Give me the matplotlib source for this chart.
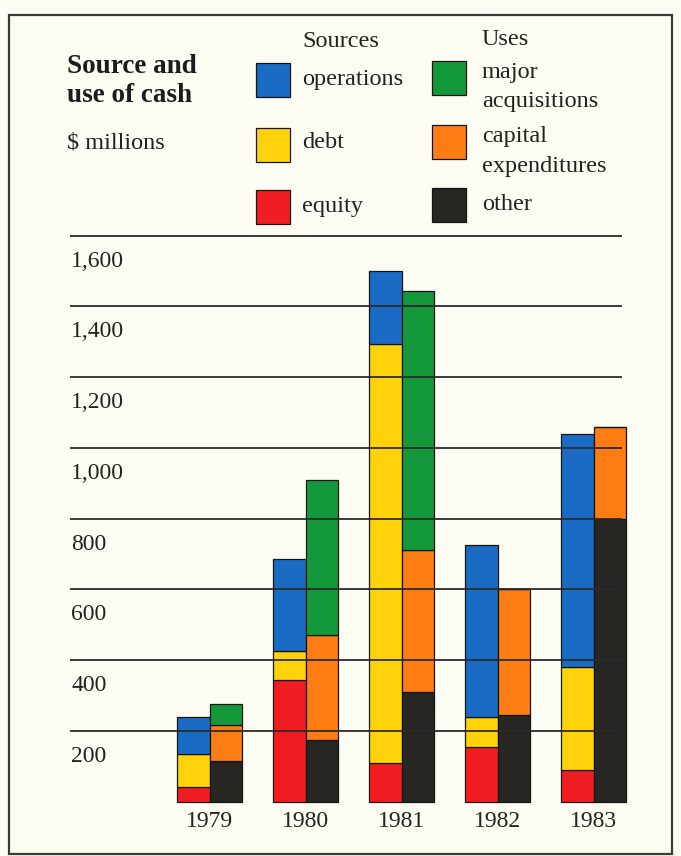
import matplotlib
matplotlib.use("Agg")
import matplotlib.pyplot as plt
from matplotlib.patches import Rectangle
from matplotlib.transforms import Affine2D

# ---- data ($ millions) ----
years = ["1979", "1980", "1981", "1982", "1983"]
# sources of cash
operations = [105, 260, 205, 485, 660]
debt = [95, 80, 1185, 85, 290]
equity = [40, 345, 110, 155, 90]
# uses of cash
acquisitions = [60, 440, 735, 0, 0]
capital_exp = [100, 295, 400, 355, 260]
other = [115, 175, 310, 245, 800]
y_ticks = [200, 400, 600, 800, 1000, 1200, 1400, 1600]

# ---- style ----
BG = "#fcfcf2"
C_OPS = "#1a6bc4"
C_DEBT = "#ffd20a"
C_EQ = "#f01e23"
C_ACQ = "#13993a"
C_CAP = "#fb7d14"
C_OTH = "#262722"
INK = "#2b2b2b"
TXT = "#222222"
SERIF = ["Liberation Serif", "DejaVu Serif"]
plt.rcParams["font.family"] = SERIF
FS_NUM = 17
FS_WORD = 17.5
FS_TITLE = 19.5

W, H = 681, 856
fig = plt.figure(figsize=(W / 100, H / 100), dpi=100, facecolor=BG)
ax = fig.add_axes([0, 0, 1, 1])
ax.set_facecolor(BG)
ax.axis("off")

# plot scale: group i centred at 209.5 + 96*i px, 0.3536 px per $ million
X0, DX = 209.5, 96.0
Y0, DY = 801.5, 0.3536
ax.set_xlim(-X0 / DX, (W - X0) / DX)
ax.set_ylim((Y0 - H) / DY, Y0 / DY)

# pixel (from top-left) transform for legend and header
pix = Affine2D().scale(1 / W, -1 / H).translate(0, 1) + fig.transFigure

bw = 32.5 / DX
xs = list(range(len(years)))


def stack(xpos, layers):
    bottom = [0] * len(xpos)
    for vals, col in layers:
        ax.bar(xpos, vals, width=bw, bottom=bottom, color=col,
               edgecolor="#151515", linewidth=0.9, align="edge", zorder=2)
        bottom = [b + v for b, v in zip(bottom, vals)]


stack([x - bw for x in xs], [(equity, C_EQ), (debt, C_DEBT), (operations, C_OPS)])
stack(xs, [(other, C_OTH), (capital_exp, C_CAP), (acquisitions, C_ACQ)])

# horizontal rules drawn over the bars
gx0, gx1 = (70 - X0) / DX, (622 - X0) / DX
ax.hlines(y_ticks, gx0, gx1, color=INK, linewidth=1.3, zorder=3)

# value labels sit just under their rule
lx = (71 - X0) / DX
for v in y_ticks:
    ax.text(lx, v - 31 / DY, f"{v:,}", ha="left", va="baseline",
            fontsize=FS_NUM, color=TXT)

for x, yr in zip(xs, years):
    ax.text(x, (Y0 - 827) / DY, yr, ha="center", va="baseline",
            fontsize=FS_NUM, color=TXT)

# ---- header ----
ax.text(67, 73, "Source and", transform=pix, fontsize=FS_TITLE, fontweight="bold",
        color="#1c1c1c", va="baseline")
ax.text(67, 102, "use of cash", transform=pix, fontsize=FS_TITLE, fontweight="bold",
        color="#1c1c1c", va="baseline")
ax.text(67, 148, "$ millions", transform=pix, fontsize=FS_WORD, color=TXT,
        va="baseline")

ax.text(302, 47, "Sources", transform=pix, fontsize=FS_WORD, color=TXT, va="baseline")
ax.text(482, 45, "Uses", transform=pix, fontsize=FS_WORD, color=TXT, va="baseline")

legend_src = [(C_OPS, 63, ["operations"], [85]),
              (C_DEBT, 128, ["debt"], [148]),
              (C_EQ, 190, ["equity"], [212])]
legend_use = [(C_ACQ, 61, ["major", "acquisitions"], [78, 107]),
              (C_CAP, 125, ["capital", "expenditures"], [142, 172]),
              (C_OTH, 188, ["other"], [210])]

for px, tx, items in [(256, 302, legend_src), (432, 482, legend_use)]:
    for col, top, lines, bases in items:
        ax.add_patch(Rectangle((px, top), 34, 34, transform=pix, facecolor=col,
                               edgecolor="#151515", linewidth=0.9, zorder=2))
        for s, b in zip(lines, bases):
            ax.text(tx, b, s, transform=pix, fontsize=FS_WORD, color=TXT,
                    va="baseline")

# frame
ax.add_patch(Rectangle((9, 15), 663, 839, transform=pix, fill=False,
                       edgecolor="#3a3a3a", linewidth=1.6, zorder=4))

fig.savefig("out.png", dpi=100, facecolor=BG)
